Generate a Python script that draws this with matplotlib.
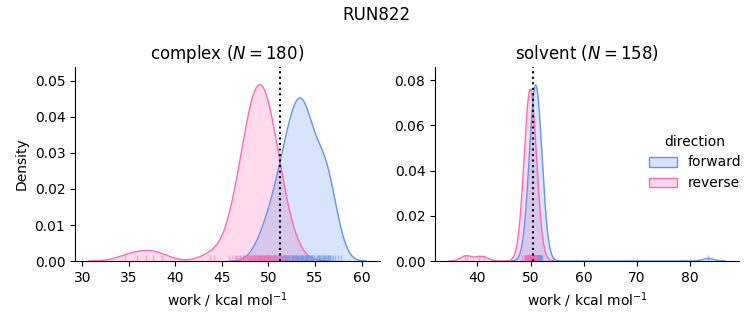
import numpy as np
import matplotlib.pyplot as plt
from matplotlib.colors import to_rgb
from matplotlib.patches import Patch

# work values per phase and direction (kcal/mol)
complex_forward = [
    48.6,
    49.2, 49.5, 49.8,
    50.0, 50.2, 50.35, 50.55, 50.75,
    50.85, 50.97, 51.08, 51.2, 51.31, 51.43, 51.54, 51.66,
    51.74, 51.81, 51.89, 51.96, 52.04, 52.11, 52.19, 52.26, 52.34, 52.41, 52.49, 52.56,
    52.63, 52.69, 52.75, 52.81, 52.87, 52.93, 52.99, 53.04, 53.1, 53.16, 53.22, 53.28, 53.34, 53.4, 53.46,
    53.52, 53.58, 53.64, 53.7, 53.76, 53.82, 53.88, 53.93, 53.99, 54.05, 54.11, 54.17, 54.23, 54.29, 54.35,
    54.41, 54.48, 54.56, 54.63, 54.71, 54.78, 54.93, 55.08, 55.23,
    55.3, 55.39, 55.48, 55.57, 55.66, 55.75, 55.84, 55.93, 56.02, 56.11,
    56.2, 56.28, 56.35, 56.42, 56.5, 56.58, 56.65, 56.8, 56.95,
    57.15, 57.45, 57.8,
]
complex_reverse = [
    34.6, 35.9, 36.8, 37.6, 38.6,
    43.7, 44.2,
    45.8, 46.1, 46.4,
    46.5, 46.65, 46.8, 46.95, 47.1,
    47.22, 47.28, 47.35, 47.42, 47.5, 47.57, 47.64, 47.71, 47.78, 47.86,
    47.95, 48.0, 48.05, 48.1, 48.15, 48.2, 48.25, 48.3, 48.35, 48.4, 48.45, 48.5, 48.55, 48.6,
    48.68, 48.72, 48.77, 48.82, 48.86, 48.9, 48.95, 49.0, 49.05, 49.1, 49.14, 49.19, 49.24, 49.28, 49.33, 49.38,
    49.42, 49.47, 49.52, 49.56, 49.61, 49.66, 49.71, 49.76, 49.81, 49.86, 49.9, 49.95, 50.0, 50.05, 50.1,
    50.15, 50.23, 50.3, 50.37, 50.45, 50.52, 50.6, 50.67, 50.75, 50.82,
    50.9, 51.03, 51.16, 51.29, 51.42, 51.55,
    51.7, 51.95, 52.2,
    52.7,
]
solvent_forward = [
    49.7,
    49.88, 49.95, 50.02,
    50.12, 50.16, 50.2, 50.23, 50.27, 50.31,
    50.35, 50.38, 50.41, 50.44, 50.46, 50.49, 50.52, 50.55, 50.57,
    50.6, 50.62, 50.64, 50.66, 50.68, 50.7, 50.71, 50.73, 50.75, 50.77, 50.79, 50.81, 50.83,
    50.84, 50.86, 50.88, 50.89, 50.91, 50.93, 50.95, 50.96, 50.98, 51.0, 51.01, 51.03, 51.05, 51.07,
    51.09, 51.11, 51.13, 51.15, 51.17, 51.19, 51.2, 51.22, 51.24, 51.26, 51.28, 51.3, 51.32,
    51.35, 51.38, 51.41, 51.44, 51.46, 51.49, 51.52, 51.55, 51.57,
    51.6, 51.64, 51.68, 51.72, 51.76, 51.8,
    51.88, 51.95, 52.02,
    52.2,
    83.5,
]
solvent_reverse = [
    37.6, 38.1, 40.2, 41.3,
    48.45, 48.7,
    48.88, 48.95, 49.02,
    49.12, 49.16, 49.2, 49.23, 49.27, 49.31,
    49.35, 49.38, 49.41, 49.44, 49.46, 49.49, 49.52, 49.55, 49.57,
    49.59, 49.61, 49.63, 49.65, 49.68, 49.7, 49.72, 49.74, 49.77, 49.79, 49.81,
    49.83, 49.85, 49.87, 49.89, 49.91, 49.93, 49.95, 49.97, 49.99, 50.01, 50.03, 50.05, 50.07,
    50.09, 50.11, 50.13, 50.15, 50.18, 50.2, 50.22, 50.24, 50.27, 50.29, 50.31,
    50.35, 50.38, 50.41, 50.44, 50.46, 50.49, 50.52, 50.55, 50.57,
    50.6, 50.64, 50.68, 50.72, 50.76, 50.8,
    50.88, 50.95, 51.02,
    51.2, 51.45,
]

phases = ["complex", "solvent"]
directions = ["forward", "reverse"]
work = {
    ("complex", "forward"): complex_forward,
    ("complex", "reverse"): complex_reverse,
    ("solvent", "forward"): solvent_forward,
    ("solvent", "reverse"): solvent_reverse,
}
dg_estimate = {"complex": 51.2, "solvent": 50.5}

colors = {"forward": "cornflowerblue", "reverse": "hotpink"}
bandwidth = {
    ("complex", "forward"): 0.9,
    ("complex", "reverse"): 1.3,
    ("solvent", "forward"): 1.05,
    ("solvent", "reverse"): 1.0,
}

n_total = sum(len(v) for v in work.values())


def kde(samples, bw, norm, gridsize=200, cut=3):
    x = np.asarray(samples, dtype=float)
    grid = np.linspace(x.min() - cut * bw, x.max() + cut * bw, gridsize)
    z = (grid[:, None] - x[None, :]) / bw
    dens = np.exp(-0.5 * z ** 2).sum(axis=1) / (bw * np.sqrt(2 * np.pi)) / norm
    return grid, dens


fig = plt.figure(figsize=(7.53, 3.25), dpi=100)
ax_c = fig.add_axes([0.0996, 0.1969, 0.4051, 0.5969])
ax_s = fig.add_axes([0.5777, 0.1969, 0.4037, 0.5969])

for ax, phase in zip([ax_c, ax_s], phases):
    n_phase = sum(len(work[(phase, d)]) for d in directions)
    # densities share one normalisation across both panels
    for d in directions[::-1]:
        grid, dens = kde(work[(phase, d)], bandwidth[(phase, d)], n_total)
        ax.fill_between(grid, 0, dens, color=colors[d], alpha=0.25, lw=0)
        ax.plot(grid, dens, color=colors[d], lw=1)
    for d in directions:
        ax.vlines(work[(phase, d)], 0, 0.03, transform=ax.get_xaxis_transform(),
                  color=colors[d], alpha=0.5, lw=1)
    ax.axvline(dg_estimate[phase], color="black", ls=":", lw=1.5)
    ax.margins(x=0.05, y=0.1)
    ax.set_ylim(bottom=0)
    ax.set_title(f"{phase} ($N = {n_phase}$)")
    ax.set_xlabel("work / kcal mol$^{-1}$")
    ax.spines["top"].set_visible(False)
    ax.spines["right"].set_visible(False)

ax_c.set_ylabel("Density")

handles = [Patch(facecolor=(*to_rgb(colors[d]), 0.25), edgecolor=colors[d]) for d in directions]
fig.legend(handles, directions, title="direction", loc="center left",
           bbox_to_anchor=(0.845, 0.5), frameon=False)

fig.suptitle("RUN822")
fig.savefig("out.png", dpi=100)
